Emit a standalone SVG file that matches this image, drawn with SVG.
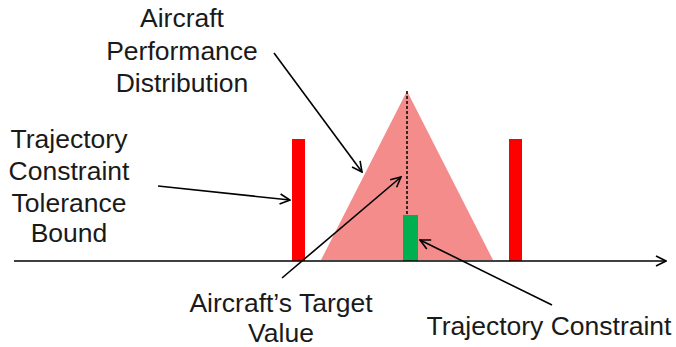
<svg xmlns="http://www.w3.org/2000/svg" width="676" height="347" viewBox="0 0 676 347">
<defs>
<style>
text{font-family:"Liberation Sans",Arial,sans-serif;font-size:26.5px;fill:#1a1a1a;text-anchor:middle}
.ln{stroke:#000;stroke-width:1.6;fill:none}
.bar{fill:#ff0000}
</style>
<marker id="ah" viewBox="0 0 12 12" refX="11" refY="6" markerWidth="12" markerHeight="12" markerUnits="userSpaceOnUse" orient="auto">
<path d="M1,1 L11,6 L1,11" fill="none" stroke="#000" stroke-width="1.6"/>
</marker>
</defs>
<rect width="676" height="347" fill="#fff"/>
<g id="distribution">
<polygon points="407,91 321,260 493,260" fill="#f48c8c"/>
</g>
<g id="target-line">
<line x1="407" y1="91" x2="407" y2="215" stroke="#000" stroke-width="1.5" stroke-dasharray="3,2"/>
</g>
<g id="bound-left"><rect class="bar" x="292" y="139" width="13" height="122"/></g>
<g id="bound-right"><rect class="bar" x="509" y="139" width="13" height="122"/></g>
<g id="constraint"><rect x="403" y="215" width="15" height="46" fill="#00b050"/></g>
<g id="axis">
<line class="ln" x1="14" y1="261" x2="666" y2="261" stroke-width="2.2" marker-end="url(#ah)"/>
</g>
<g id="connectors">
<line class="ln" x1="274" y1="53" x2="362" y2="172" marker-end="url(#ah)"/>
<line class="ln" x1="158" y1="186" x2="290" y2="200" marker-end="url(#ah)"/>
<line class="ln" x1="282" y1="278" x2="401" y2="177" marker-end="url(#ah)"/>
<line class="ln" x1="552" y1="305" x2="420" y2="240" marker-end="url(#ah)"/>
</g>
<g id="label-distribution">
<text x="182" y="27">Aircraft</text>
<text x="182" y="60">Performance</text>
<text x="182" y="92">Distribution</text>
</g>
<g id="label-bound">
<text x="69" y="148">Trajectory</text>
<text x="69" y="180">Constraint</text>
<text x="69" y="212">Tolerance</text>
<text x="69" y="242">Bound</text>
</g>
<g id="label-target">
<text x="281" y="312">Aircraft’s Target</text>
<text x="281" y="342">Value</text>
</g>
<g id="label-constraint">
<text x="549" y="335">Trajectory Constraint</text>
</g>
</svg>
